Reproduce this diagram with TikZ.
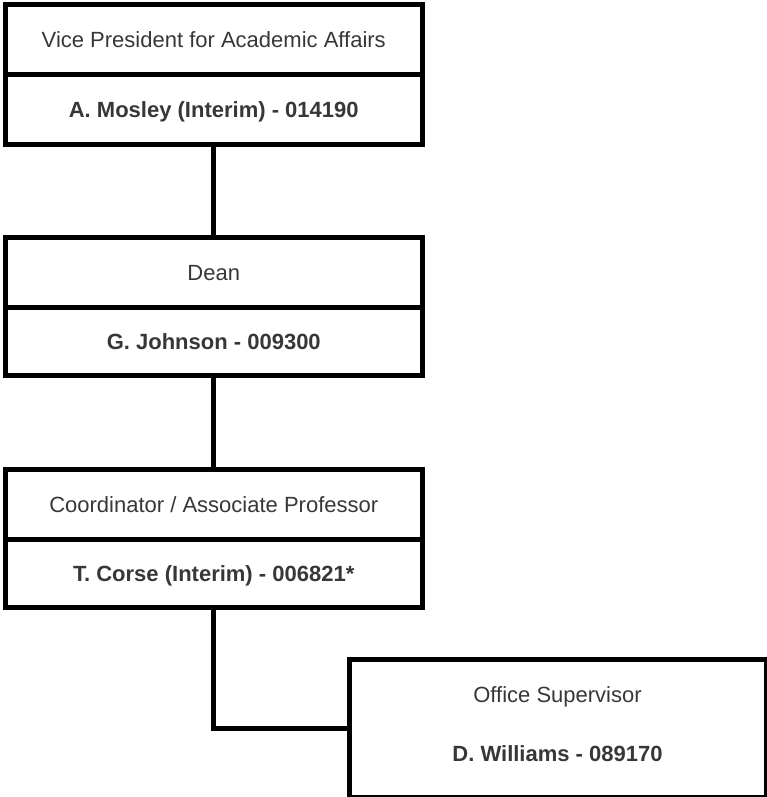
\documentclass[tikz,border=0pt]{standalone}
\usepackage{fontspec}
\setmainfont{Liberation Sans}
\definecolor{txt}{RGB}{55,55,55}
\begin{document}
\begin{tikzpicture}[x=1pt,y=-1pt,
  cell/.style={draw=black, line width=5pt, rectangle, inner sep=0pt, outer sep=0pt,
    minimum width=416.5pt, text height=15.8pt, text depth=0pt, align=center,
    text=txt, font=\fontsize{22}{26}\selectfont},
  namecell/.style={cell, font=\fontsize{22}{26}\selectfont\bfseries},
  link/.style={draw=black, line width=5pt}]
\useasboundingbox (0,0) rectangle (767,797);
% Box 1
\node[cell, anchor=north west, minimum height=69.5pt] (vpT) at (5.5,5) {Vice President for Academic Affairs};
\node[namecell, anchor=north, minimum height=70pt] (vpN) at (vpT.south) {A. Mosley (Interim) - 014190};
% Box 2
\node[cell, anchor=north west, minimum height=70.5pt] (deanT) at (5.5,237) {Dean};
\node[namecell, anchor=north, minimum height=67.5pt] (deanN) at (deanT.south) {G. Johnson - 009300};
% Box 3
\node[cell, anchor=north west, minimum height=69.5pt] (coT) at (5.5,469.5) {Coordinator / Associate Professor};
\node[namecell, anchor=north, minimum height=68.5pt] (coN) at (coT.south) {T. Corse (Interim) - 006821*};
% Box 4
\node[draw=black, line width=5pt, rectangle, inner sep=0pt, anchor=north west,
  minimum width=417pt, minimum height=138pt] (os) at (346.5,656.5) {};
\node[anchor=base, inner sep=0pt, text=txt, font=\fontsize{22}{26}\selectfont] (osT) at ([yshift=25.5pt]os.center) {Office Supervisor};
\node[anchor=base, inner sep=0pt, text=txt, font=\fontsize{22}{26}\selectfont\bfseries] (osN) at ([yshift=-33.5pt]os.center) {D. Williams - 089170};
% connectors
\draw[link] (vpN.south) -- (deanT.north);
\draw[link] (deanN.south) -- (coT.north);
\draw[link] (coN.south) |- (os.west);
\end{tikzpicture}
\end{document}
